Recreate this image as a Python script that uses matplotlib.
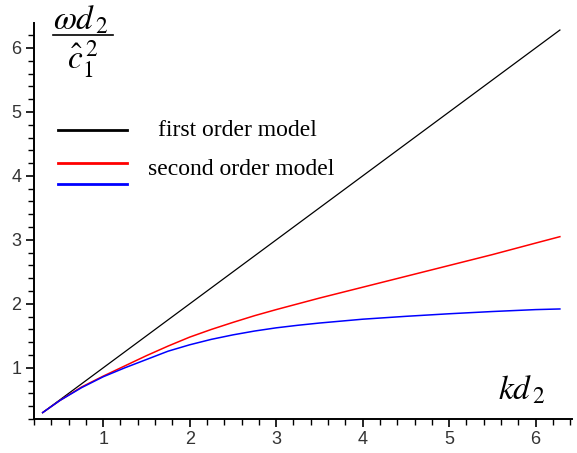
import matplotlib
matplotlib.use("Agg")
import matplotlib.pyplot as plt
from matplotlib.ticker import MultipleLocator

plt.rcParams["mathtext.fontset"] = "stix"

# data
k = [0.3, 0.5, 0.75, 1.0, 1.25, 1.5, 1.75, 2.0, 2.25, 2.5, 2.75, 3.0, 3.25, 3.5, 3.75,
     4.0, 4.5, 5.0, 5.5, 6.0, 6.28]
first_order = [0.3, 0.5, 0.75, 1.0, 1.25, 1.5, 1.75, 2.0, 2.25, 2.5, 2.75, 3.0, 3.25, 3.5, 3.75,
               4.0, 4.5, 5.0, 5.5, 6.0, 6.28]
second_order = [0.3, 0.49, 0.70, 0.87, 1.03, 1.19, 1.34, 1.48, 1.60, 1.71, 1.815, 1.91, 2.00, 2.09, 2.175,
                2.26, 2.43, 2.60, 2.77, 2.95, 3.05]
third_curve = [0.3, 0.49, 0.69, 0.86, 1.00, 1.13, 1.26, 1.36, 1.445, 1.515, 1.575, 1.625, 1.665, 1.70, 1.73,
               1.76, 1.805, 1.845, 1.88, 1.91, 1.92]
xticks = [1, 2, 3, 4, 5, 6]
yticks = [1, 2, 3, 4, 5, 6]
legend_labels = ["first order model", "second order model"]

W, H = 577, 453
fig = plt.figure(figsize=(W / 100, H / 100), dpi=100)
ax = fig.add_axes([34 / W, (H - 419) / H, (572 - 34) / W, (419 - 23) / H])

ax.plot(k, first_order, color="black", lw=0.9)
ax.plot(k, second_order, color="#ff0000", lw=1.1)
ax.plot(k, third_curve, color="#0000ff", lw=1.1)

ax.set_xlim(0.2, 6.42)
ax.set_ylim(0.2, 6.39)
for s in ["top", "right"]:
    ax.spines[s].set_visible(False)
for s in ["left", "bottom"]:
    ax.spines[s].set_linewidth(1.4)
ax.set_xticks(xticks)
ax.set_yticks(yticks)
ax.xaxis.set_minor_locator(MultipleLocator(0.2))
ax.yaxis.set_minor_locator(MultipleLocator(0.2))
ax.tick_params(which="major", direction="out", length=6, width=1.2, labelsize=13,
               labelcolor="#333333", pad=3)
ax.tick_params(which="minor", direction="out", length=4, width=1.0)
for lab in ax.get_xticklabels() + ax.get_yticklabels():
    lab.set_family("Liberation Sans")


def fx(px):
    return px / W


def fy(py):
    return 1 - py / H


# legend drawn manually
for py, col in [(130, "black"), (163, "#ff0000"), (184, "#0000ff")]:
    fig.add_artist(plt.Line2D([fx(58), fx(127)], [fy(py), fy(py)], color=col, lw=2.0))
fig.text(fx(158), fy(130), legend_labels[0], family="Liberation Serif",
         fontsize=17, va="center", ha="left")
fig.text(fx(148), fy(170), legend_labels[1], family="Liberation Serif",
         fontsize=17, va="center", ha="left")

# y label as a stacked fraction
fig.text(fx(81), fy(29), r"$\omega d_{\,2}$", fontsize=24, ha="center", va="baseline")
fig.add_artist(plt.Line2D([fx(53), fx(113)], [fy(35), fy(35)], color="black", lw=1.2))
fig.text(fx(83), fy(68), r"$\hat{c}_{1}^{\,2}$", fontsize=24, ha="center", va="baseline")

fig.text(fx(522), fy(400), r"$kd_{\,2}$", fontsize=24, ha="center", va="baseline")

fig.savefig("out.png", dpi=100)
